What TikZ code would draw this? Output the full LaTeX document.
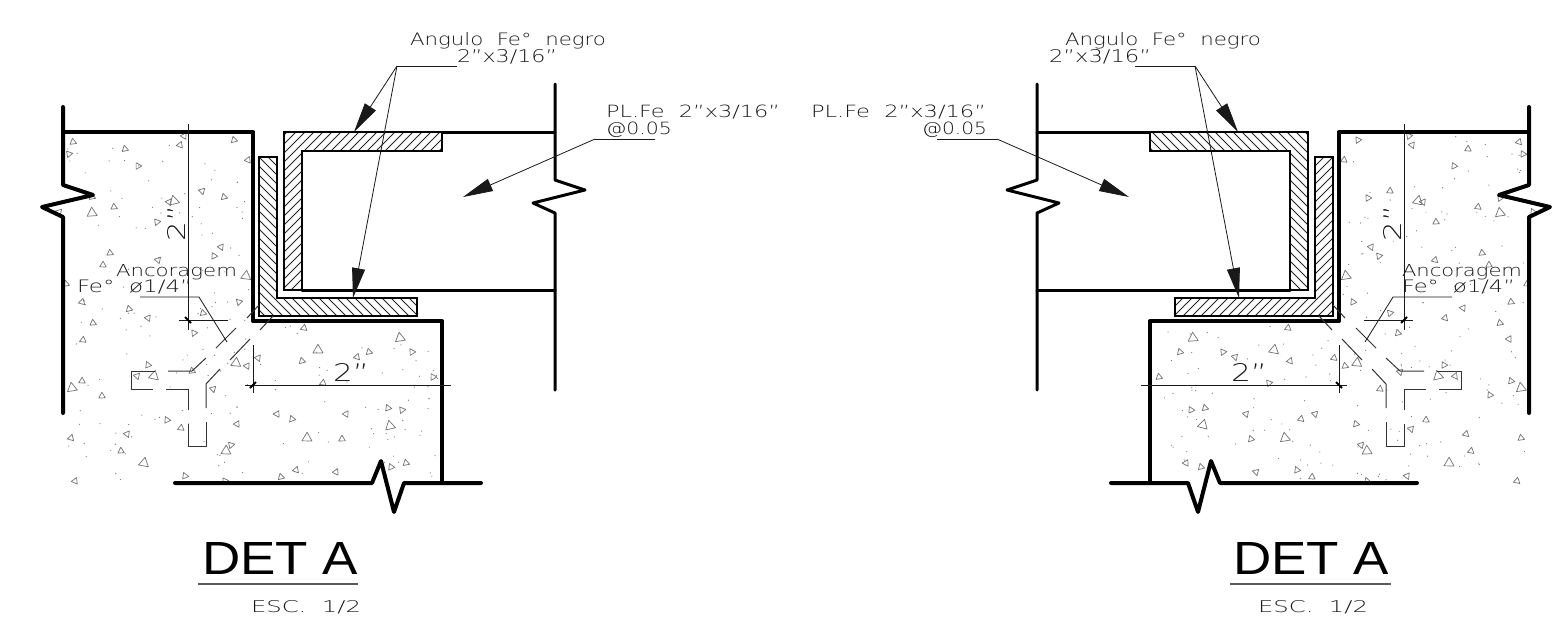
\documentclass[tikz,border=0pt]{standalone}
\usepackage{fontspec}
\usepackage{graphicx}
\usetikzlibrary{arrows.meta}
\setmainfont{DejaVu Sans}
\newfontfamily\cad{DejaVu Sans ExtraLight}
\newfontfamily\titlefont{Liberation Sans}
\newcommand\cadt[3]{\resizebox{#1pt}{#2pt}{\cad #3}}
\newcommand\titlet[3]{\resizebox{#1pt}{#2pt}{\titlefont #3}}
\colorlet{ink}{black!90}
\tikzset{
  x=1pt,y=-1pt,
  wall/.style={line width=4pt,line cap=round,line join=round,black},
  beam/.style={line width=3pt,line cap=round,line join=miter,black},
  steel/.style={line width=1.5pt,black,line join=miter},
  hatchline/.style={line width=.75pt,black!85},
  thin line/.style={line width=.8pt,ink},
  anchorbar/.style={line width=1pt,black!80},
  leader/.style={line width=.8pt,ink},
  arrowed/.style={leader,-{Triangle[length=30pt,width=13pt]}},
  ticks/.style={line width=2pt,black},
  tri/.style={line width=.7pt,black!55,line join=round},
  grain/.style={black!55},
  label/.style={anchor=base west,inner sep=0pt,outer sep=0pt,ink},
}
\newcommand\detgeom[1]{%
  % steel angles
  \begin{scope}
    \clip (284,132) -- (442,132) -- (442,151) -- (302,151) -- (302,290) -- (284,290) -- cycle;
    \foreach \k in {110,119,...,450} \draw[hatchline] (\k,300) -- (\k+200,100);
  \end{scope}
  \draw[steel] (284,132) -- (442,132) -- (442,151) -- (302,151) -- (302,290) -- (284,290) -- cycle;
  \draw[line width=2.4pt,black] (302,151) -- (302,290);
  \begin{scope}
    \clip (259,157) -- (277,157) -- (277,298) -- (417,298) -- (417,316) -- (259,316) -- cycle;
    \foreach \k in {40,49,...,365} \draw[hatchline] (\k,100) -- (\k+220,320);
  \end{scope}
  \draw[steel] (259,157) -- (277,157) -- (277,298) -- (417,298) -- (417,316) -- (259,316) -- cycle;
  % masonry and beam outlines
  \draw[wall] (63,107) -- (63,185) -- (93,195) -- (42,207) -- (63,217) -- (63,413);
  \draw[wall] (63,132) -- (253,132) -- (253,321) -- (442,321) -- (442,483);
  \draw[wall] (175,483) -- (372,483) -- (381,461) -- (394,512) -- (404,483) -- (481,483);
  \draw[wall,line width=3pt] (555,84) -- (555,180) -- (585,190) -- (533,203) -- (555,213) -- (555,390);
  \draw[beam] (442,132) -- (555,132);
  \draw[beam] (302,290) -- (555,290);
  % anchor
  \draw[anchorbar] (216,348) -- (236,328);
  \draw[anchorbar] (230,360) -- (250,339);
  \draw[anchorbar] (247,318) -- (259,305);
  \draw[anchorbar] (260,330) -- (273,316);
  \draw[anchorbar] (168,371) -- (192,371) -- (206,358);
  \draw[anchorbar] (155,371) -- (131,371) -- (131,389) -- (153,389);
  \draw[anchorbar] (166,389) -- (188,389) -- (188,410);
  \draw[anchorbar] (220,369) -- (206,384) -- (206,408);
  \draw[anchorbar] (188,424) -- (188,446) -- (206,446) -- (206,422);
  % dimensions
  \coordinate (#1vt) at (188,124);
  \coordinate (#1vb) at (188,330);
  \coordinate (#1ve) at (179,320);
  \coordinate (#1vf) at (228,320);
  \draw[thin line] (#1vt) -- (#1vb);
  \draw[thin line] (#1ve) -- (#1vf);
  \draw[ticks] (185,317) -- (191,323);
  \coordinate (#1ht) at (253,345);
  \coordinate (#1hb) at (253,393);
  \coordinate (#1he) at (245,385);
  \coordinate (#1hf) at (451,385);
  \draw[thin line] (#1ht) -- (#1hb);
  \draw[thin line] (#1he) -- (#1hf);
  \draw[ticks] (250,388) -- (256,382);
  % leaders
  \coordinate (#1a0) at (457,66);
  \coordinate (#1a1) at (397,66);
  \coordinate (#1a2) at (354,132);
  \coordinate (#1a3) at (353,298);
  \draw[leader] (#1a0) -- (#1a1);
  \draw[arrowed] (#1a1) -- (#1a2);
  \draw[arrowed] (#1a1) -- (#1a3);
  \coordinate (#1p0) at (655,139);
  \coordinate (#1p1) at (595,139);
  \coordinate (#1p2) at (463,197);
  \draw[leader] (#1p0) -- (#1p1);
  \draw[arrowed] (#1p1) -- (#1p2);
  \coordinate (#1c0) at (140,297);
  \coordinate (#1c1) at (199,297);
  \coordinate (#1c2) at (227,342);
  \draw[leader] (#1c0) -- (#1c1) -- (#1c2);
}
\begin{document}
\begin{tikzpicture}
\useasboundingbox (0,0) rectangle (1559,630);
\fill[white] (0,0) rectangle (1559,630);

% concrete grain: dots
\pgfmathsetseed{4711}
\foreach \i in {1,...,115} {
  \pgfmathsetmacro\dx{67+rnd*182}\pgfmathsetmacro\dy{136+rnd*344}
  \fill[grain] (\dx,\dy) circle (.6);
  \pgfmathsetmacro\ex{1592-67-rnd*182}\pgfmathsetmacro\ey{136+rnd*344}
  \fill[grain] (\ex,\ey) circle (.6);
}
\foreach \i in {1,...,55} {
  \pgfmathsetmacro\dx{258+rnd*180}\pgfmathsetmacro\dy{326+rnd*154}
  \fill[grain] (\dx,\dy) circle (.6);
  \pgfmathsetmacro\ex{1592-258-rnd*180}\pgfmathsetmacro\ey{326+rnd*154}
  \fill[grain] (\ex,\ey) circle (.6);
}
% concrete grain: small triangles
\foreach \x/\y in {73/142,69/154,125/149,138/166,180/145,184/136,234/140,248/160,202/191,224/197,169/202,114/207,92/197,59/212,157/222,110/253,103/265,221/247,214/256,158/260,66/284,82/302,129/309,148/318,93/323,203/313,239/302,194/333,83/340,82/381,102/396,148/365,137/376,192/371,213/389,247/366,258/358,304/328,302/361,167/420,181/428,237/424,71/438,127/434,121/451,231/445,185/476,75/481,281/477,296/470,336/472,277/414,292/419,342/439,346/414,323/383,225/481,357/357,369/352,412/352,433/377,388/408,402/410,406/463,391/467,
1358/140,1344/160,1409/136,1412/145,1468/149,1519/142,1523/154,1454/166,1368/198,1390/191,1423/202,1478/207,1500/198,1533/212,1436/222,1371/247,1379/256,1435/260,1482/253,1489/265,1527/284,1353/302,1390/313,1463/308,1445/318,1511/302,1500/323,1509/339,1288/328,1398/333,1290/361,1334/358,1345/366,1400/372,1444/365,1455/376,1511/381,1490/395,1380/389,1426/420,1411/429,1356/424,1315/414,1301/419,1466/434,1521/438,1361/445,1471/451,1297/470,1312/477,1407/476,1367/481,1517/481,1180/352,1223/352,1235/357,1159/377,1269/383,1191/410,1205/408,1246/414,1251/439,1186/463,1201/467,1256/472} {
  \pgfmathsetmacro\r{mod(mod(\x,97)*13+\y*7,90)-45}
  \draw[tri,shift={(\x,\y)},rotate=\r] (270:3.8) -- (30:3.8) -- (150:3.8) -- cycle;
}
% concrete grain: large triangles
\foreach \x/\y in {174/201,92/213,246/276,72/388,154/376,236/363,318/350,144/463,226/451,307/438,400/338,390/426,
1418/201,1500/213,1346/276,1274/350,1357/363,1438/376,1521/388,1285/438,1367/451,1449/463,1193/338,1203/425} {
  \pgfmathsetmacro\r{mod(mod(\x,97)*5+\y*3,30)-15}
  \draw[tri,shift={(\x,\y)},rotate=\r] (270:5.8) -- (30:5.8) -- (150:5.8) -- cycle;
}

\detgeom{l}
\begin{scope}[xscale=-1,xshift=-1592pt]
\detgeom{r}
\end{scope}

% title rules
\coordinate (tl0) at (198,584);
\coordinate (tl1) at (358,584);
\coordinate (tr0) at (1230,584);
\coordinate (tr1) at (1391,584);
\draw[line width=1.5pt,black!65] (tl0) -- (tl1);
\draw[line width=1.5pt,black!65] (tr0) -- (tr1);

% labels, left
\node[label] (la) at (410,45) {\cadt{196}{13}{Angulo\ \ Fe°\ \ negro}};
\node[label] (lb) at (457,62) {\cadt{100}{13}{2”x3/16”}};
\node[label] (lc) at (606,117) {\cadt{174}{12.5}{PL.Fe\ \ 2”x3/16”}};
\node[label] (ld) at (606,134) {\cadt{66}{12.5}{@0.05}};
\node[label] (le) at (116,276) {\cadt{121}{12}{Ancoragem}};
\node[label] (lf) at (77,292) {\cadt{115}{12.5}{Fe°\ \ ø1/4”}};
\node[label] (lg) at (333,381) {\cadt{36}{18}{2”}};
\node[label,rotate=90] (lh) at (185,241) {\cadt{36}{18}{2”}};
\node[label,black] (li) at (202,574) {\titlet{156}{32}{DET A}};
\node[label] (lj) at (251,612) {\cadt{110}{12}{ESC.\ \ 1/2}};

% labels, right
\node[label] (ra) at (1065,45) {\cadt{196}{13}{Angulo\ \ Fe°\ \ negro}};
\node[label] (rb) at (1049,62) {\cadt{102}{13}{2”x3/16”}};
\node[label] (rc) at (811,117) {\cadt{175}{12.5}{PL.Fe\ \ 2”x3/16”}};
\node[label] (rd) at (922,134) {\cadt{65}{12.5}{@0.05}};
\node[label] (re) at (1402,276) {\cadt{120}{12}{Ancoragem}};
\node[label] (rf) at (1402,292) {\cadt{113}{12.5}{Fe°\ \ ø1/4”}};
\node[label] (rg) at (1231,381) {\cadt{36}{18}{2”}};
\node[label,rotate=90] (rh) at (1401,241) {\cadt{36}{18}{2”}};
\node[label,black] (ri) at (1233,574) {\titlet{156}{32}{DET A}};
\node[label] (rj) at (1258,612) {\cadt{110}{12}{ESC.\ \ 1/2}};
\end{tikzpicture}
\end{document}
